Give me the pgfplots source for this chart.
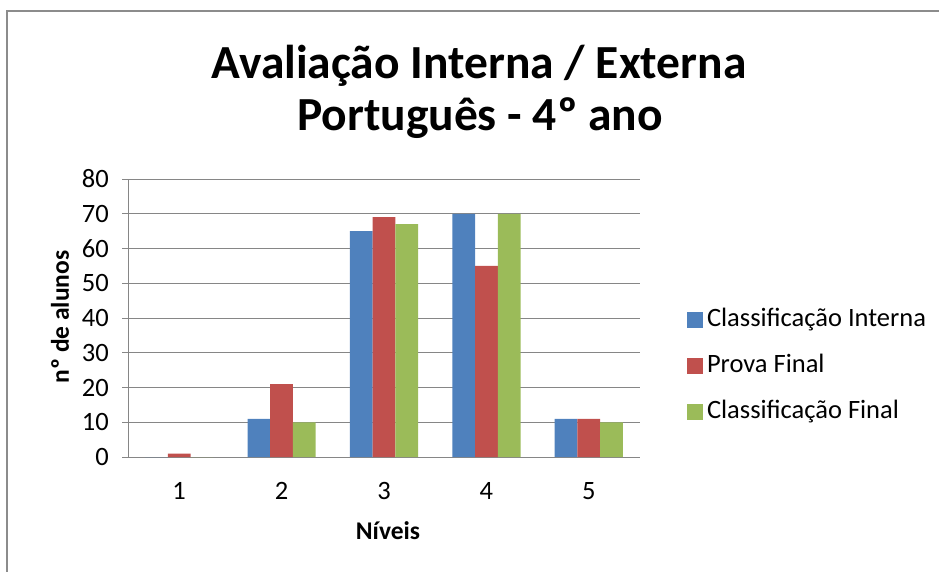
\documentclass[border=0pt]{standalone}
\usepackage{pgfplots}
\pgfplotsset{compat=1.18}
\usepackage{fontspec}
\setmainfont{Carlito}
\definecolor{cblue}{RGB}{79,129,189}
\definecolor{cred}{RGB}{192,80,77}
\definecolor{cgreen}{RGB}{155,187,89}
\definecolor{gridgray}{RGB}{134,134,134}
\definecolor{framegray}{RGB}{140,140,140}
\begin{document}
\begin{tikzpicture}[x=1pt,y=1pt]
\path[use as bounding box] (0,0) rectangle (939,-572);
\draw[line width=2pt, framegray] (7,-572) -- (7,-11) -- (939,-11);
\node[font=\fontsize{47.5}{57}\bfseries\selectfont, anchor=base] at (479,-79) {Avaliação Interna / Externa};
\node[font=\fontsize{47.5}{57}\bfseries\selectfont, anchor=base] at (480,-131) {Português - 4º ano};
\node[font=\fontsize{25.5}{30}\bfseries\selectfont, rotate=90] at (60,-317) {nº de alunos};
\node[font=\fontsize{25.5}{30}\bfseries\selectfont] at (388,-531) {Níveis};
\begin{axis}[
  at={(128pt,-457pt)}, anchor=south west,
  scale only axis, width=512pt, height=278pt,
  xmin=0.5, xmax=5.5, ymin=0, ymax=80,
  ytick={0,10,...,80},
  xtick=\empty,
  extra x ticks={1,2,3,4,5},
  extra x tick labels={1,2,3,4,5},
  extra x tick style={major tick length=0pt},
  axis x line*=bottom, axis y line*=left,
  axis line style={gridgray, line width=1pt, -},
  ymajorgrids,
  grid style={gridgray, line width=1pt},
  tick align=outside, major tick length=6pt,
  tick style={gridgray, line width=1pt},
  /pgf/number format/assume math mode=true,
  tick label style={font=\fontsize{26.5}{31}\selectfont, text=black},
  yticklabel style={inner sep=0pt, xshift=-13pt},
  xticklabel style={inner sep=0pt, yshift=-25pt},
  ybar, bar width=0.222,
  legend style={at={(1.0918,0.327)}, anchor=west, draw=none, fill=none,
    inner sep=0pt, outer sep=0pt, row sep=23pt,
    font=\fontsize{26.5}{31}\selectfont,
    nodes={inner sep=0pt, text height=18pt, text depth=5pt},
    /tikz/every odd column/.append style={column sep=4pt}},
  legend cell align=left,
  legend image code/.code={\fill[#1] (0pt,-8pt) rectangle (16pt,8pt);},
]
\addplot[fill=cblue, draw=none, bar shift=-0.222] coordinates {(1,0) (2,11) (3,65) (4,70) (5,11)};
\addplot[fill=cred, draw=none, bar shift=0] coordinates {(1,1) (2,21) (3,69) (4,55) (5,11)};
\addplot[fill=cgreen, draw=none, bar shift=0.222] coordinates {(1,0) (2,10) (3,67) (4,70) (5,10)};
\legend{Classificação Interna, Prova Final, Classificação Final}
\end{axis}
\end{tikzpicture}
\end{document}
